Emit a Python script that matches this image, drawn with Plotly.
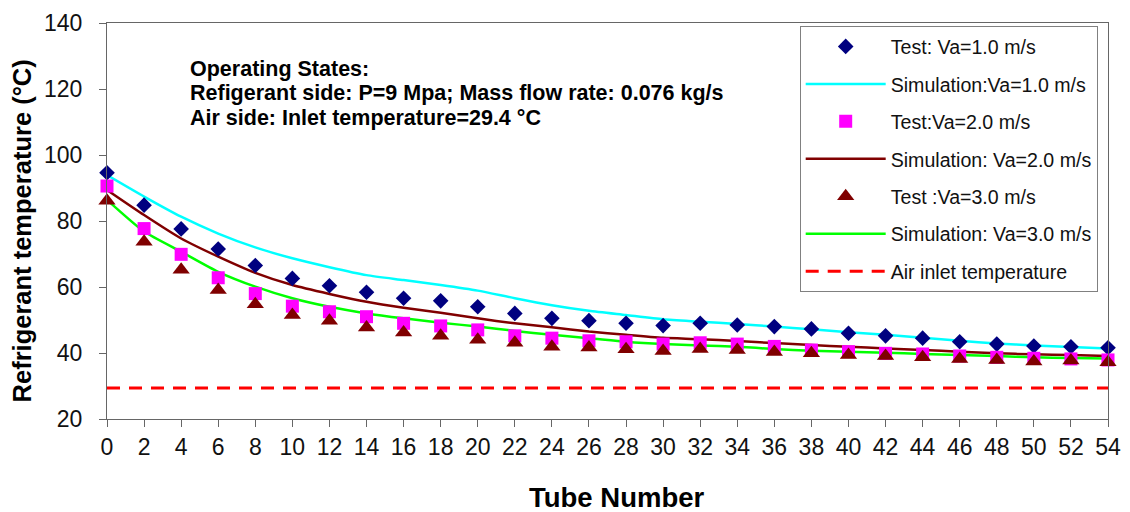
import plotly.graph_objects as go

tubes = list(range(0, 55, 2))

test_va1 = [94.6, 84.8, 77.6, 71.5, 66.5, 62.6, 60.4, 58.4, 56.6, 55.8, 54.0, 52.0, 50.5, 49.8,
            49.0, 48.3, 49.0, 48.5, 48.0, 47.3, 46.0, 45.2, 44.5, 43.4, 42.7, 42.1, 41.9, 41.6]
test_va2 = [90.6, 77.7, 69.9, 62.8, 58.0, 54.2, 52.5, 51.0, 49.0, 48.2, 47.0, 45.2, 44.5, 43.7,
            43.4, 42.7, 43.1, 42.7, 42.0, 40.9, 40.4, 39.9, 39.7, 39.1, 38.7, 38.4, 38.2, 37.9]
test_va3 = [86.1, 73.7, 65.2, 59.1, 54.8, 51.5, 49.8, 47.7, 46.2, 45.2, 44.0, 43.1, 41.9, 41.7,
            41.1, 40.6, 41.2, 40.9, 40.3, 39.9, 39.4, 39.1, 38.7, 38.2, 37.9, 37.4, 37.7, 37.2]

sim_va1 = [93.9, 87.4, 81.3, 76.2, 72.0, 68.7, 66.0, 63.6, 62.1, 60.6, 58.9, 56.6, 54.5, 52.8,
           51.5, 50.2, 49.5, 48.8, 48.0, 47.2, 46.3, 45.5, 44.6, 43.7, 42.9, 42.3, 41.8, 41.4]
sim_va2 = [89.4, 81.8, 74.7, 69.2, 64.3, 60.6, 57.9, 55.5, 53.7, 52.2, 50.5, 49.0, 47.8, 46.5,
           45.5, 44.6, 44.2, 43.6, 43.0, 42.4, 41.9, 41.4, 40.9, 40.4, 39.9, 39.6, 39.4, 39.1]
sim_va3 = [86.4, 76.8, 70.7, 64.6, 60.1, 56.6, 54.0, 52.0, 50.5, 49.2, 48.0, 46.7, 45.5, 44.5,
           43.4, 42.7, 42.3, 41.9, 41.2, 40.7, 40.4, 40.1, 39.7, 39.4, 39.1, 38.7, 38.5, 38.3]

air_x = [0, 54]
air_inlet = [29.4, 29.4]

x_ticks = list(range(0, 55, 2))
y_ticks = list(range(20, 141, 20))

info_lines = [
    "Operating States:",
    "Refigerant side: P=9 Mpa; Mass flow rate: 0.076 kg/s",
    "Air side: Inlet temperature=29.4 °C",
]

FONT = "Liberation Sans, Arial, sans-serif"

fig = go.Figure()

def line_trace(y, name, color, rank, group):
    return go.Scatter(x=tubes, y=y, mode="lines", name=name, legendrank=rank,
                      legendgroup=group,
                      line=dict(color=color, width=2.5, shape="spline", smoothing=0.6))

def marker_trace(y, name, color, symbol, size, rank, group):
    return go.Scatter(x=tubes, y=y, mode="markers", name=name, legendrank=rank,
                      legendgroup=group, cliponaxis=False,
                      marker=dict(color=color, symbol=symbol, size=size, line=dict(width=0)))

fig.add_trace(go.Scatter(x=air_x, y=air_inlet, mode="lines", name="Air inlet temperature",
                         legendrank=7, legendgroup="g7",
                         line=dict(color="#FF0000", width=3, dash="13px,9px")))
fig.add_trace(line_trace(sim_va1, "Simulation:Va=1.0 m/s", "#00FFFF", 2, "g2"))
fig.add_trace(line_trace(sim_va2, "Simulation: Va=2.0 m/s", "#800000", 4, "g4"))
fig.add_trace(line_trace(sim_va3, "Simulation: Va=3.0 m/s", "#00FF00", 6, "g6"))
fig.add_trace(marker_trace(test_va1, "Test: Va=1.0 m/s", "#000080", "diamond", 12, 1, "g1"))
fig.add_trace(marker_trace(test_va2, "Test:Va=2.0 m/s", "#FF00FF", "square", 13, 3, "g3"))
fig.add_trace(marker_trace(test_va3, "Test :Va=3.0 m/s", "#800000", "triangle-up", 15, 5, "g5"))

for i, txt in enumerate(info_lines):
    fig.add_annotation(
        xref="paper", yref="paper", x=0.081, y=0.884 - i * 0.062,
        xanchor="left", yanchor="middle", align="left", showarrow=False,
        text="<b>" + txt + "</b>",
        font=dict(family=FONT, size=21.5, color="#000000"),
    )

# axis titles
fig.add_annotation(xref="paper", yref="paper", x=0.5085, y=-0.197, xanchor="center",
                   yanchor="middle", showarrow=False, text="<b>Tube Number</b>",
                   font=dict(family=FONT, size=27.5, color="#000000"))
fig.add_annotation(xref="paper", yref="paper", x=-0.0854, y=0.475, xanchor="center",
                   yanchor="middle", showarrow=False, textangle=-90,
                   text="<b>Refrigerant temperature (°C)</b>",
                   font=dict(family=FONT, size=25.5, color="#000000"))

axis_common = dict(showgrid=False, zeroline=False, showline=True, linecolor="#666666",
                   linewidth=1.2, mirror=True, ticks="outside", ticklen=7, automargin=False,
                   tickcolor="#666666", tickfont=dict(family=FONT, size=23, color="#111111"))

fig.update_xaxes(range=[0, 54], tickmode="array", tickvals=x_ticks,
                 ticktext=[str(v) for v in x_ticks], **axis_common)
fig.update_yaxes(range=[20, 140], tickmode="array", tickvals=y_ticks,
                 ticktext=[str(v) for v in y_ticks], ticklabelstandoff=12, **axis_common)

fig.update_layout(
    width=1130, height=512,
    margin=dict(l=107, r=22, t=23, b=93, autoexpand=False),
    paper_bgcolor="white", plot_bgcolor="white",
    showlegend=True,
    legend=dict(x=0.692, y=0.992, xanchor="left", yanchor="top",
                bordercolor="#808080", borderwidth=1, bgcolor="white",
                font=dict(family=FONT, size=19.6, color="#111111"),
                itemwidth=80, tracegroupgap=9, traceorder="grouped"),
    font=dict(family=FONT),
)

fig.write_html("out.html")
